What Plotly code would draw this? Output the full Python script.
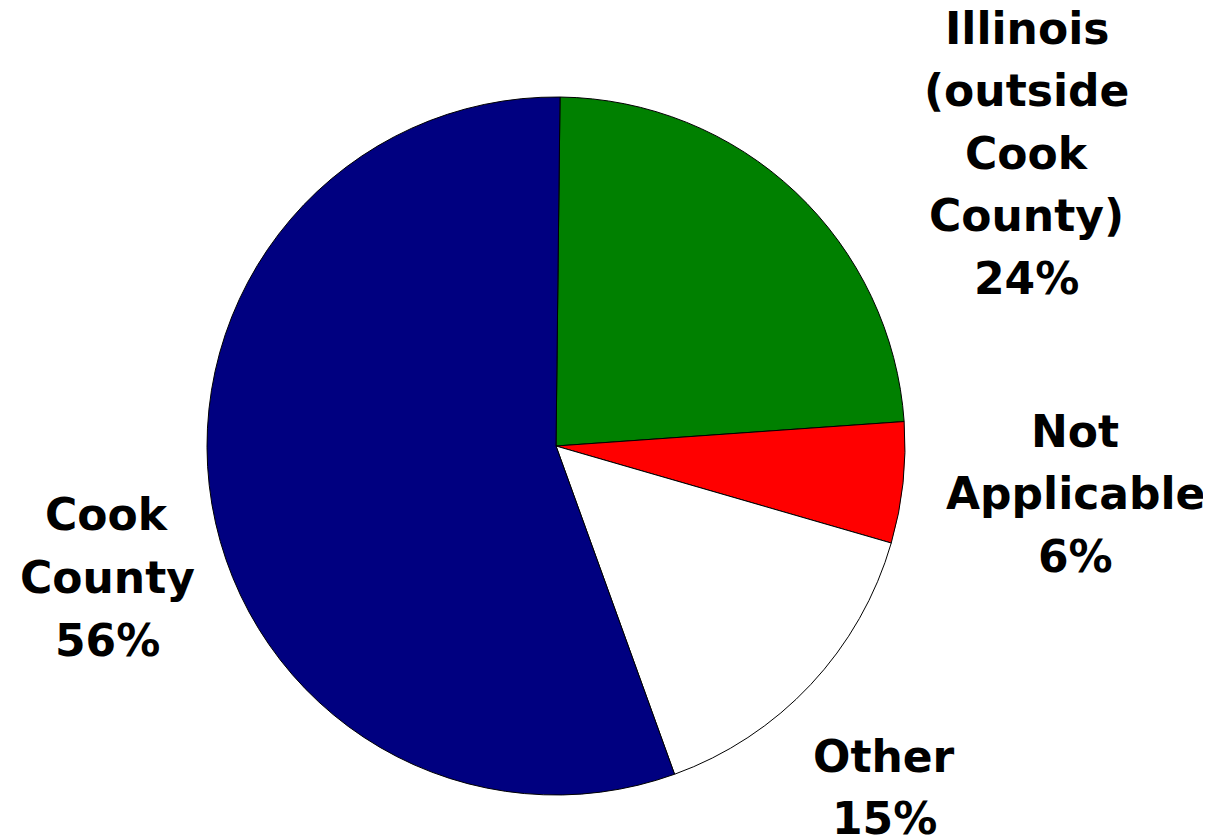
import plotly.graph_objects as go

labels = ["Illinois (outside Cook County)", "Not Applicable", "Other", "Cook County"]
values = [23.7, 5.6, 15.0, 55.7]
pct_labels = ["24%", "6%", "15%", "56%"]
label_lines = [["Illinois", "(outside", "Cook", "County)"], ["Not", "Applicable"], ["Other"], ["Cook", "County"]]
colors = ["#008000", "#FF0000", "#FFFFFF", "#000080"]

W, H = 1211, 840
OFF = 8  # page body margin offset
cx, cy, r = 556 - OFF, 446 - OFF, 349

fig = go.Figure(go.Pie(
    labels=labels, values=values, sort=False, direction="clockwise", rotation=0.66,
    marker=dict(colors=colors, line=dict(color="black", width=1)),
    textinfo="none", hoverinfo="label+percent", showlegend=False,
    domain=dict(x=[(cx - r) / W, (cx + r) / W], y=[1 - (cy + r) / H, 1 - (cy - r) / H]),
))

block_pos = [(1027, 28), (1075, 431), (884, 756), (107, 515)]
spacing = 62.5
annotations = []
for lines, pct, (bx, by) in zip(label_lines, pct_labels, block_pos):
    for i, t in enumerate(lines + [pct]):
        annotations.append(dict(
            x=(bx - OFF) / W, y=1 - (by - OFF + i * spacing) / H, xref="paper", yref="paper",
            text=t, showarrow=False, xanchor="center", yanchor="middle",
            font=dict(family="DejaVu Sans", size=44, color="black", weight="bold"),
        ))

fig.update_layout(
    width=W, height=H, margin=dict(l=0, r=0, t=0, b=0),
    paper_bgcolor="white", plot_bgcolor="white", annotations=annotations,
)
fig.write_html("out.html")
